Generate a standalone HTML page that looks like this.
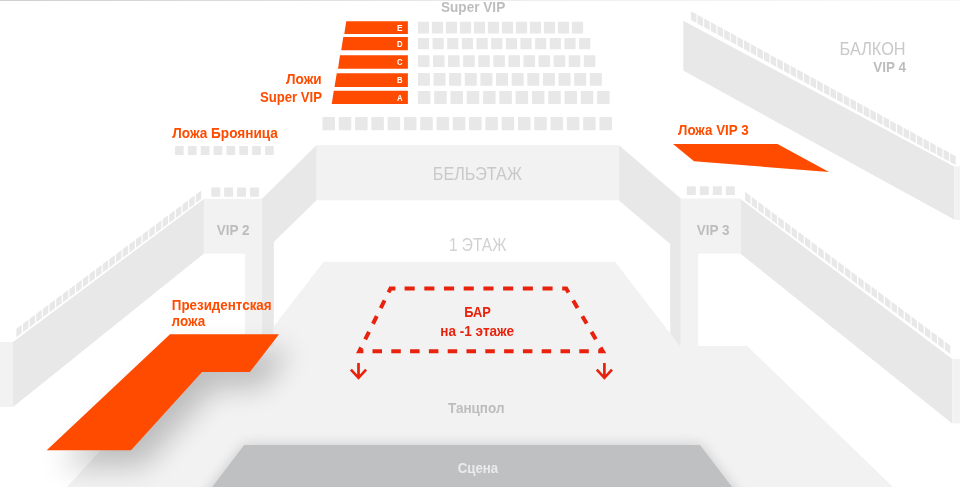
<!DOCTYPE html>
<html lang="ru">
<head>
<meta charset="utf-8">
<title>Схема зала</title>
<style>
html,body{margin:0;padding:0;background:#fff;}
body{width:960px;height:487px;overflow:hidden;font-family:'Liberation Sans', 'DejaVu Sans', sans-serif;}
svg{display:block;}
svg text{font-family:'Liberation Sans', 'DejaVu Sans', sans-serif;}
</style>
</head>
<body>
<svg width="960" height="487" viewBox="0 0 960 487">
<defs>
<linearGradient id="hl" x1="0" y1="0" x2="960" y2="0" gradientUnits="userSpaceOnUse"><stop offset="0" stop-color="#d0d0d0"/><stop offset="0.3" stop-color="#dedede"/><stop offset="0.55" stop-color="#eeeeee"/><stop offset="1" stop-color="#f8f8f8"/></linearGradient>
<filter id="b1" x="-20%" y="-50%" width="140%" height="200%"><feGaussianBlur stdDeviation="7"/></filter>
<filter id="b2" x="-50%" y="-60%" width="200%" height="220%"><feGaussianBlur stdDeviation="14"/></filter>
</defs>
<polygon points="316.75,145.00 316.75,200.00 273.80,242.00 273.80,346.00 262.00,346.00 262.00,198.75" fill="#e8e8e8"/>
<polygon points="618.75,145.00 680.80,198.50 680.80,346.00 670.20,346.00 670.20,244.00 618.75,200.30" fill="#e8e8e8"/>
<rect x="316.75" y="145.00" width="302.00" height="55.30" fill="#f2f2f2"/>
<rect x="245.00" y="253.00" width="17.00" height="93.00" fill="#f2f2f2"/>
<rect x="680.80" y="253.00" width="17.40" height="93.00" fill="#f2f2f2"/>
<rect x="203.75" y="198.75" width="58.25" height="54.90" fill="#f2f2f2"/>
<rect x="680.80" y="198.50" width="60.00" height="55.10" fill="#f2f2f2"/>
<polygon points="323.75,261.75 615.00,261.75 680.00,346.00 747.30,346.00 893.00,487.00 67.00,487.00 195.00,346.00 273.80,346.00 273.80,326.30" fill="#f2f2f2"/>
<polygon points="203.90,199.00 203.90,253.60 13.00,407.00 13.00,342.00" fill="#e8e8e8"/>
<rect x="0.00" y="342.00" width="13.00" height="65.00" fill="#f2f2f2"/>
<polygon points="16.30,328.70 21.75,324.63 21.75,333.13 16.30,337.20" fill="#e8e8e8"/>
<polygon points="22.95,323.73 28.40,319.66 28.40,328.16 22.95,332.23" fill="#e8e8e8"/>
<polygon points="29.60,318.76 35.05,314.69 35.05,323.19 29.60,327.26" fill="#e8e8e8"/>
<polygon points="36.25,313.80 41.70,309.73 41.70,318.23 36.25,322.30" fill="#e8e8e8"/>
<polygon points="42.90,308.83 48.35,304.76 48.35,313.26 42.90,317.33" fill="#e8e8e8"/>
<polygon points="49.55,303.86 55.00,299.79 55.00,308.29 49.55,312.36" fill="#e8e8e8"/>
<polygon points="56.20,298.89 61.65,294.82 61.65,303.32 56.20,307.39" fill="#e8e8e8"/>
<polygon points="62.85,293.93 68.30,289.85 68.30,298.35 62.85,302.43" fill="#e8e8e8"/>
<polygon points="69.50,288.96 74.95,284.89 74.95,293.39 69.50,297.46" fill="#e8e8e8"/>
<polygon points="76.15,283.99 81.60,279.92 81.60,288.42 76.15,292.49" fill="#e8e8e8"/>
<polygon points="82.80,279.02 88.25,274.95 88.25,283.45 82.80,287.52" fill="#e8e8e8"/>
<polygon points="89.45,274.05 94.90,269.98 94.90,278.48 89.45,282.55" fill="#e8e8e8"/>
<polygon points="96.10,269.09 101.55,265.02 101.55,273.52 96.10,277.59" fill="#e8e8e8"/>
<polygon points="102.75,264.12 108.20,260.05 108.20,268.55 102.75,272.62" fill="#e8e8e8"/>
<polygon points="109.40,259.15 114.85,255.08 114.85,263.58 109.40,267.65" fill="#e8e8e8"/>
<polygon points="116.05,254.18 121.50,250.11 121.50,258.61 116.05,262.68" fill="#e8e8e8"/>
<polygon points="122.70,249.22 128.15,245.15 128.15,253.65 122.70,257.72" fill="#e8e8e8"/>
<polygon points="129.35,244.25 134.80,240.18 134.80,248.68 129.35,252.75" fill="#e8e8e8"/>
<polygon points="136.00,239.28 141.45,235.21 141.45,243.71 136.00,247.78" fill="#e8e8e8"/>
<polygon points="142.65,234.31 148.10,230.24 148.10,238.74 142.65,242.81" fill="#e8e8e8"/>
<polygon points="149.30,229.35 154.75,225.27 154.75,233.77 149.30,237.85" fill="#e8e8e8"/>
<polygon points="155.95,224.38 161.40,220.31 161.40,228.81 155.95,232.88" fill="#e8e8e8"/>
<polygon points="162.60,219.41 168.05,215.34 168.05,223.84 162.60,227.91" fill="#e8e8e8"/>
<polygon points="169.25,214.44 174.70,210.37 174.70,218.87 169.25,222.94" fill="#e8e8e8"/>
<polygon points="175.90,209.47 181.35,205.40 181.35,213.90 175.90,217.97" fill="#e8e8e8"/>
<polygon points="182.55,204.51 188.00,200.44 188.00,208.94 182.55,213.01" fill="#e8e8e8"/>
<polygon points="189.20,199.54 194.65,195.47 194.65,203.97 189.20,208.04" fill="#e8e8e8"/>
<polygon points="195.85,194.57 201.30,190.50 201.30,199.00 195.85,203.07" fill="#e8e8e8"/>
<polygon points="740.80,199.30 952.20,359.00 952.20,423.40 740.80,253.90" fill="#e8e8e8"/>
<rect x="952.20" y="359.00" width="7.80" height="64.40" fill="#f2f2f2"/>
<polygon points="745.00,191.80 750.46,195.89 750.46,204.29 745.00,200.20" fill="#e8e8e8"/>
<polygon points="751.66,196.79 757.12,200.88 757.12,209.28 751.66,205.19" fill="#e8e8e8"/>
<polygon points="758.32,201.78 763.78,205.87 763.78,214.27 758.32,210.18" fill="#e8e8e8"/>
<polygon points="764.98,206.77 770.45,210.86 770.45,219.26 764.98,215.17" fill="#e8e8e8"/>
<polygon points="771.65,211.76 777.11,215.85 777.11,224.25 771.65,220.16" fill="#e8e8e8"/>
<polygon points="778.31,216.75 783.77,220.84 783.77,229.24 778.31,225.15" fill="#e8e8e8"/>
<polygon points="784.97,221.74 790.43,225.83 790.43,234.23 784.97,230.14" fill="#e8e8e8"/>
<polygon points="791.63,226.73 797.09,230.82 797.09,239.22 791.63,235.13" fill="#e8e8e8"/>
<polygon points="798.29,231.72 803.75,235.81 803.75,244.21 798.29,240.12" fill="#e8e8e8"/>
<polygon points="804.95,236.71 810.41,240.80 810.41,249.20 804.95,245.11" fill="#e8e8e8"/>
<polygon points="811.61,241.70 817.07,245.79 817.07,254.19 811.61,250.10" fill="#e8e8e8"/>
<polygon points="818.27,246.69 823.74,250.78 823.74,259.18 818.27,255.09" fill="#e8e8e8"/>
<polygon points="824.94,251.68 830.40,255.77 830.40,264.17 824.94,260.08" fill="#e8e8e8"/>
<polygon points="831.60,256.67 837.06,260.77 837.06,269.17 831.60,265.07" fill="#e8e8e8"/>
<polygon points="838.26,261.66 843.72,265.76 843.72,274.16 838.26,270.06" fill="#e8e8e8"/>
<polygon points="844.92,266.65 850.38,270.75 850.38,279.15 844.92,275.05" fill="#e8e8e8"/>
<polygon points="851.58,271.64 857.04,275.74 857.04,284.14 851.58,280.04" fill="#e8e8e8"/>
<polygon points="858.24,276.63 863.70,280.73 863.70,289.13 858.24,285.03" fill="#e8e8e8"/>
<polygon points="864.90,281.63 870.36,285.72 870.36,294.12 864.90,290.03" fill="#e8e8e8"/>
<polygon points="871.56,286.62 877.03,290.71 877.03,299.11 871.56,295.02" fill="#e8e8e8"/>
<polygon points="878.23,291.61 883.69,295.70 883.69,304.10 878.23,300.01" fill="#e8e8e8"/>
<polygon points="884.89,296.60 890.35,300.69 890.35,309.09 884.89,305.00" fill="#e8e8e8"/>
<polygon points="891.55,301.59 897.01,305.68 897.01,314.08 891.55,309.99" fill="#e8e8e8"/>
<polygon points="898.21,306.58 903.67,310.67 903.67,319.07 898.21,314.98" fill="#e8e8e8"/>
<polygon points="904.87,311.57 910.33,315.66 910.33,324.06 904.87,319.97" fill="#e8e8e8"/>
<polygon points="911.53,316.56 916.99,320.65 916.99,329.05 911.53,324.96" fill="#e8e8e8"/>
<polygon points="918.19,321.55 923.65,325.64 923.65,334.04 918.19,329.95" fill="#e8e8e8"/>
<polygon points="924.85,326.54 930.32,330.63 930.32,339.03 924.85,334.94" fill="#e8e8e8"/>
<polygon points="931.52,331.53 936.98,335.62 936.98,344.02 931.52,339.93" fill="#e8e8e8"/>
<polygon points="938.18,336.52 943.64,340.61 943.64,349.01 938.18,344.92" fill="#e8e8e8"/>
<polygon points="944.84,341.51 950.30,345.60 950.30,354.00 944.84,349.91" fill="#e8e8e8"/>
<polygon points="683.30,20.70 954.20,166.40 954.20,219.60 683.30,70.60" fill="#e8e8e8"/>
<rect x="954.20" y="166.40" width="5.80" height="53.50" fill="#f2f2f2"/>
<polygon points="690.90,11.20 696.45,14.24 696.45,23.04 690.90,20.00" fill="#e8e8e8"/>
<polygon points="697.55,14.84 703.10,17.88 703.10,26.68 697.55,23.64" fill="#e8e8e8"/>
<polygon points="704.19,18.48 709.74,21.52 709.74,30.32 704.19,27.28" fill="#e8e8e8"/>
<polygon points="710.84,22.12 716.39,25.16 716.39,33.96 710.84,30.92" fill="#e8e8e8"/>
<polygon points="717.49,25.76 723.04,28.80 723.04,37.60 717.49,34.56" fill="#e8e8e8"/>
<polygon points="724.14,29.40 729.69,32.44 729.69,41.24 724.14,38.20" fill="#e8e8e8"/>
<polygon points="730.78,33.04 736.33,36.08 736.33,44.88 730.78,41.84" fill="#e8e8e8"/>
<polygon points="737.43,36.68 742.98,39.72 742.98,48.52 737.43,45.48" fill="#e8e8e8"/>
<polygon points="744.08,40.32 749.63,43.36 749.63,52.16 744.08,49.12" fill="#e8e8e8"/>
<polygon points="750.73,43.96 756.27,47.00 756.27,55.80 750.73,52.76" fill="#e8e8e8"/>
<polygon points="757.38,47.60 762.92,50.64 762.92,59.44 757.38,56.40" fill="#e8e8e8"/>
<polygon points="764.02,51.24 769.57,54.28 769.57,63.08 764.02,60.04" fill="#e8e8e8"/>
<polygon points="770.67,54.88 776.22,57.92 776.22,66.72 770.67,63.68" fill="#e8e8e8"/>
<polygon points="777.32,58.52 782.87,61.56 782.87,70.36 777.32,67.32" fill="#e8e8e8"/>
<polygon points="783.97,62.16 789.51,65.20 789.51,74.00 783.97,70.96" fill="#e8e8e8"/>
<polygon points="790.61,65.80 796.16,68.84 796.16,77.64 790.61,74.60" fill="#e8e8e8"/>
<polygon points="797.26,69.44 802.81,72.48 802.81,81.28 797.26,78.24" fill="#e8e8e8"/>
<polygon points="803.91,73.08 809.46,76.12 809.46,84.92 803.91,81.88" fill="#e8e8e8"/>
<polygon points="810.56,76.72 816.10,79.76 816.10,88.56 810.56,85.52" fill="#e8e8e8"/>
<polygon points="817.20,80.36 822.75,83.40 822.75,92.20 817.20,89.16" fill="#e8e8e8"/>
<polygon points="823.85,84.00 829.40,87.04 829.40,95.84 823.85,92.80" fill="#e8e8e8"/>
<polygon points="830.50,87.64 836.05,90.68 836.05,99.48 830.50,96.44" fill="#e8e8e8"/>
<polygon points="837.14,91.28 842.69,94.32 842.69,103.12 837.14,100.08" fill="#e8e8e8"/>
<polygon points="843.79,94.92 849.34,97.96 849.34,106.76 843.79,103.72" fill="#e8e8e8"/>
<polygon points="850.44,98.56 855.99,101.60 855.99,110.40 850.44,107.36" fill="#e8e8e8"/>
<polygon points="857.09,102.20 862.64,105.24 862.64,114.04 857.09,111.00" fill="#e8e8e8"/>
<polygon points="863.74,105.84 869.28,108.88 869.28,117.68 863.74,114.64" fill="#e8e8e8"/>
<polygon points="870.38,109.48 875.93,112.52 875.93,121.32 870.38,118.28" fill="#e8e8e8"/>
<polygon points="877.03,113.12 882.58,116.16 882.58,124.96 877.03,121.92" fill="#e8e8e8"/>
<polygon points="883.68,116.76 889.23,119.80 889.23,128.60 883.68,125.56" fill="#e8e8e8"/>
<polygon points="890.33,120.40 895.87,123.44 895.87,132.24 890.33,129.20" fill="#e8e8e8"/>
<polygon points="896.97,124.04 902.52,127.08 902.52,135.88 896.97,132.84" fill="#e8e8e8"/>
<polygon points="903.62,127.68 909.17,130.72 909.17,139.52 903.62,136.48" fill="#e8e8e8"/>
<polygon points="910.27,131.32 915.82,134.36 915.82,143.16 910.27,140.12" fill="#e8e8e8"/>
<polygon points="916.92,134.96 922.46,138.00 922.46,146.80 916.92,143.76" fill="#e8e8e8"/>
<polygon points="923.56,138.60 929.11,141.64 929.11,150.44 923.56,147.40" fill="#e8e8e8"/>
<polygon points="930.21,142.24 935.76,145.28 935.76,154.08 930.21,151.04" fill="#e8e8e8"/>
<polygon points="936.86,145.88 942.41,148.92 942.41,157.72 936.86,154.68" fill="#e8e8e8"/>
<polygon points="943.51,149.52 949.05,152.56 949.05,161.36 943.51,158.32" fill="#e8e8e8"/>
<polygon points="950.15,153.16 955.70,156.20 955.70,165.00 950.15,161.96" fill="#e8e8e8"/>
<rect x="417.90" y="21.80" width="11.20" height="11.80" fill="#e8e8e8" rx="0.6"/>
<rect x="431.90" y="21.80" width="11.20" height="11.80" fill="#e8e8e8" rx="0.6"/>
<rect x="445.90" y="21.80" width="11.20" height="11.80" fill="#e8e8e8" rx="0.6"/>
<rect x="459.90" y="21.80" width="11.20" height="11.80" fill="#e8e8e8" rx="0.6"/>
<rect x="473.90" y="21.80" width="11.20" height="11.80" fill="#e8e8e8" rx="0.6"/>
<rect x="487.90" y="21.80" width="11.20" height="11.80" fill="#e8e8e8" rx="0.6"/>
<rect x="501.90" y="21.80" width="11.20" height="11.80" fill="#e8e8e8" rx="0.6"/>
<rect x="515.90" y="21.80" width="11.20" height="11.80" fill="#e8e8e8" rx="0.6"/>
<rect x="529.90" y="21.80" width="11.20" height="11.80" fill="#e8e8e8" rx="0.6"/>
<rect x="543.90" y="21.80" width="11.20" height="11.80" fill="#e8e8e8" rx="0.6"/>
<rect x="557.90" y="21.80" width="11.20" height="11.80" fill="#e8e8e8" rx="0.6"/>
<rect x="571.90" y="21.80" width="11.20" height="11.80" fill="#e8e8e8" rx="0.6"/>
<rect x="417.90" y="38.00" width="11.20" height="11.30" fill="#e8e8e8" rx="0.6"/>
<rect x="432.55" y="38.00" width="11.20" height="11.30" fill="#e8e8e8" rx="0.6"/>
<rect x="447.20" y="38.00" width="11.20" height="11.30" fill="#e8e8e8" rx="0.6"/>
<rect x="461.85" y="38.00" width="11.20" height="11.30" fill="#e8e8e8" rx="0.6"/>
<rect x="476.50" y="38.00" width="11.20" height="11.30" fill="#e8e8e8" rx="0.6"/>
<rect x="491.15" y="38.00" width="11.20" height="11.30" fill="#e8e8e8" rx="0.6"/>
<rect x="505.80" y="38.00" width="11.20" height="11.30" fill="#e8e8e8" rx="0.6"/>
<rect x="520.45" y="38.00" width="11.20" height="11.30" fill="#e8e8e8" rx="0.6"/>
<rect x="535.10" y="38.00" width="11.20" height="11.30" fill="#e8e8e8" rx="0.6"/>
<rect x="549.75" y="38.00" width="11.20" height="11.30" fill="#e8e8e8" rx="0.6"/>
<rect x="564.40" y="38.00" width="11.20" height="11.30" fill="#e8e8e8" rx="0.6"/>
<rect x="579.05" y="38.00" width="11.20" height="11.30" fill="#e8e8e8" rx="0.6"/>
<rect x="417.90" y="55.30" width="11.60" height="11.80" fill="#e8e8e8" rx="0.6"/>
<rect x="432.98" y="55.30" width="11.60" height="11.80" fill="#e8e8e8" rx="0.6"/>
<rect x="448.06" y="55.30" width="11.60" height="11.80" fill="#e8e8e8" rx="0.6"/>
<rect x="463.14" y="55.30" width="11.60" height="11.80" fill="#e8e8e8" rx="0.6"/>
<rect x="478.22" y="55.30" width="11.60" height="11.80" fill="#e8e8e8" rx="0.6"/>
<rect x="493.30" y="55.30" width="11.60" height="11.80" fill="#e8e8e8" rx="0.6"/>
<rect x="508.38" y="55.30" width="11.60" height="11.80" fill="#e8e8e8" rx="0.6"/>
<rect x="523.46" y="55.30" width="11.60" height="11.80" fill="#e8e8e8" rx="0.6"/>
<rect x="538.54" y="55.30" width="11.60" height="11.80" fill="#e8e8e8" rx="0.6"/>
<rect x="553.62" y="55.30" width="11.60" height="11.80" fill="#e8e8e8" rx="0.6"/>
<rect x="568.70" y="55.30" width="11.60" height="11.80" fill="#e8e8e8" rx="0.6"/>
<rect x="583.78" y="55.30" width="11.60" height="11.80" fill="#e8e8e8" rx="0.6"/>
<rect x="417.90" y="73.00" width="12.00" height="12.80" fill="#e8e8e8" rx="0.6"/>
<rect x="433.53" y="73.00" width="12.00" height="12.80" fill="#e8e8e8" rx="0.6"/>
<rect x="449.16" y="73.00" width="12.00" height="12.80" fill="#e8e8e8" rx="0.6"/>
<rect x="464.79" y="73.00" width="12.00" height="12.80" fill="#e8e8e8" rx="0.6"/>
<rect x="480.42" y="73.00" width="12.00" height="12.80" fill="#e8e8e8" rx="0.6"/>
<rect x="496.05" y="73.00" width="12.00" height="12.80" fill="#e8e8e8" rx="0.6"/>
<rect x="511.68" y="73.00" width="12.00" height="12.80" fill="#e8e8e8" rx="0.6"/>
<rect x="527.31" y="73.00" width="12.00" height="12.80" fill="#e8e8e8" rx="0.6"/>
<rect x="542.94" y="73.00" width="12.00" height="12.80" fill="#e8e8e8" rx="0.6"/>
<rect x="558.57" y="73.00" width="12.00" height="12.80" fill="#e8e8e8" rx="0.6"/>
<rect x="574.20" y="73.00" width="12.00" height="12.80" fill="#e8e8e8" rx="0.6"/>
<rect x="589.83" y="73.00" width="12.00" height="12.80" fill="#e8e8e8" rx="0.6"/>
<rect x="417.90" y="90.90" width="12.50" height="13.00" fill="#e8e8e8" rx="0.6"/>
<rect x="434.19" y="90.90" width="12.50" height="13.00" fill="#e8e8e8" rx="0.6"/>
<rect x="450.48" y="90.90" width="12.50" height="13.00" fill="#e8e8e8" rx="0.6"/>
<rect x="466.77" y="90.90" width="12.50" height="13.00" fill="#e8e8e8" rx="0.6"/>
<rect x="483.06" y="90.90" width="12.50" height="13.00" fill="#e8e8e8" rx="0.6"/>
<rect x="499.35" y="90.90" width="12.50" height="13.00" fill="#e8e8e8" rx="0.6"/>
<rect x="515.64" y="90.90" width="12.50" height="13.00" fill="#e8e8e8" rx="0.6"/>
<rect x="531.93" y="90.90" width="12.50" height="13.00" fill="#e8e8e8" rx="0.6"/>
<rect x="548.22" y="90.90" width="12.50" height="13.00" fill="#e8e8e8" rx="0.6"/>
<rect x="564.51" y="90.90" width="12.50" height="13.00" fill="#e8e8e8" rx="0.6"/>
<rect x="580.80" y="90.90" width="12.50" height="13.00" fill="#e8e8e8" rx="0.6"/>
<rect x="597.09" y="90.90" width="12.50" height="13.00" fill="#e8e8e8" rx="0.6"/>
<rect x="322.50" y="117.00" width="12.50" height="13.20" fill="#e8e8e8" rx="0.6"/>
<rect x="338.79" y="117.00" width="12.50" height="13.20" fill="#e8e8e8" rx="0.6"/>
<rect x="355.08" y="117.00" width="12.50" height="13.20" fill="#e8e8e8" rx="0.6"/>
<rect x="371.37" y="117.00" width="12.50" height="13.20" fill="#e8e8e8" rx="0.6"/>
<rect x="387.66" y="117.00" width="12.50" height="13.20" fill="#e8e8e8" rx="0.6"/>
<rect x="403.95" y="117.00" width="12.50" height="13.20" fill="#e8e8e8" rx="0.6"/>
<rect x="420.24" y="117.00" width="12.50" height="13.20" fill="#e8e8e8" rx="0.6"/>
<rect x="436.53" y="117.00" width="12.50" height="13.20" fill="#e8e8e8" rx="0.6"/>
<rect x="452.82" y="117.00" width="12.50" height="13.20" fill="#e8e8e8" rx="0.6"/>
<rect x="469.11" y="117.00" width="12.50" height="13.20" fill="#e8e8e8" rx="0.6"/>
<rect x="485.40" y="117.00" width="12.50" height="13.20" fill="#e8e8e8" rx="0.6"/>
<rect x="501.69" y="117.00" width="12.50" height="13.20" fill="#e8e8e8" rx="0.6"/>
<rect x="517.98" y="117.00" width="12.50" height="13.20" fill="#e8e8e8" rx="0.6"/>
<rect x="534.27" y="117.00" width="12.50" height="13.20" fill="#e8e8e8" rx="0.6"/>
<rect x="550.56" y="117.00" width="12.50" height="13.20" fill="#e8e8e8" rx="0.6"/>
<rect x="566.85" y="117.00" width="12.50" height="13.20" fill="#e8e8e8" rx="0.6"/>
<rect x="583.14" y="117.00" width="12.50" height="13.20" fill="#e8e8e8" rx="0.6"/>
<rect x="599.43" y="117.00" width="12.50" height="13.20" fill="#e8e8e8" rx="0.6"/>
<rect x="175.00" y="146.10" width="8.70" height="8.80" fill="#e8e8e8" rx="0.4"/>
<rect x="187.86" y="146.10" width="8.70" height="8.80" fill="#e8e8e8" rx="0.4"/>
<rect x="200.72" y="146.10" width="8.70" height="8.80" fill="#e8e8e8" rx="0.4"/>
<rect x="213.58" y="146.10" width="8.70" height="8.80" fill="#e8e8e8" rx="0.4"/>
<rect x="226.44" y="146.10" width="8.70" height="8.80" fill="#e8e8e8" rx="0.4"/>
<rect x="239.30" y="146.10" width="8.70" height="8.80" fill="#e8e8e8" rx="0.4"/>
<rect x="252.16" y="146.10" width="8.70" height="8.80" fill="#e8e8e8" rx="0.4"/>
<rect x="265.02" y="146.10" width="8.70" height="8.80" fill="#e8e8e8" rx="0.4"/>
<rect x="211.25" y="187.50" width="9.00" height="9.25" fill="#e8e8e8" rx="0.4"/>
<rect x="224.15" y="187.50" width="9.00" height="9.25" fill="#e8e8e8" rx="0.4"/>
<rect x="237.05" y="187.50" width="9.00" height="9.25" fill="#e8e8e8" rx="0.4"/>
<rect x="249.95" y="187.50" width="9.00" height="9.25" fill="#e8e8e8" rx="0.4"/>
<rect x="686.80" y="186.30" width="9.00" height="8.80" fill="#e8e8e8" rx="0.4"/>
<rect x="699.80" y="186.30" width="9.00" height="8.80" fill="#e8e8e8" rx="0.4"/>
<rect x="712.80" y="186.30" width="9.00" height="8.80" fill="#e8e8e8" rx="0.4"/>
<rect x="725.80" y="186.30" width="9.00" height="8.80" fill="#e8e8e8" rx="0.4"/>
<polygon points="346.25,21.25 407.90,21.25 407.90,34.00 344.25,34.00" fill="#ff4b00"/>
<g opacity="0.999"><text x="397.00" y="31.02" font-size="9.8" font-weight="bold" fill="#fff" text-anchor="start" textLength="5.60" lengthAdjust="spacingAndGlyphs">E</text></g>
<polygon points="343.25,37.00 407.90,37.00 407.90,50.25 341.25,50.25" fill="#ff4b00"/>
<g opacity="0.999"><text x="397.00" y="47.02" font-size="9.8" font-weight="bold" fill="#fff" text-anchor="start" textLength="5.60" lengthAdjust="spacingAndGlyphs">D</text></g>
<polygon points="340.00,55.25 407.90,55.25 407.90,68.70 338.00,68.70" fill="#ff4b00"/>
<g opacity="0.999"><text x="397.00" y="65.38" font-size="9.8" font-weight="bold" fill="#fff" text-anchor="start" textLength="5.60" lengthAdjust="spacingAndGlyphs">C</text></g>
<polygon points="336.75,73.25 407.90,73.25 407.90,86.90 334.50,86.90" fill="#ff4b00"/>
<g opacity="0.999"><text x="397.00" y="83.48" font-size="9.8" font-weight="bold" fill="#fff" text-anchor="start" textLength="5.60" lengthAdjust="spacingAndGlyphs">B</text></g>
<polygon points="333.75,90.70 407.90,90.70 407.90,104.00 331.75,104.00" fill="#ff4b00"/>
<g opacity="0.999"><text x="397.00" y="100.75" font-size="9.8" font-weight="bold" fill="#fff" text-anchor="start" textLength="5.60" lengthAdjust="spacingAndGlyphs">A</text></g>
<polygon points="673.00,144.00 777.50,144.00 829.00,172.00 694.00,161.25" fill="#ff4b00"/>
<g filter="url(#b1)" opacity="0.16"><polygon points="244.20,445.00 700.00,445.00 757.00,520.00 187.00,520.00" fill="#000"/></g>
<polygon points="244.20,445.00 700.00,445.00 732.00,487.00 212.20,487.00" fill="#bfc0c2"/>
<g filter="url(#b2)" opacity="0.215" transform="translate(12,16)"><polygon points="170.00,334.30 279.00,334.30 249.90,372.00 202.00,372.00 131.00,450.30 46.70,450.30" fill="#000"/></g>
<polygon points="170.00,334.30 279.00,334.30 249.90,372.00 202.00,372.00 131.00,450.30 46.70,450.30" fill="#ff4b00"/>
<path d="M480.0,351.3 L359.3,351.3 L390.5,288.5 L566.2,288.5 L602.8,351.3 L480.0,351.3" fill="none" stroke="#e8220c" stroke-width="4" stroke-dasharray="0.00 4.00 9.50 9.30 9.50 9.30 9.50 9.30 9.50 9.30 9.50 9.30 9.50 9.10 8.35 9.00 8.50 9.00 8.50 9.00 8.50 9.00 9.27 9.20 10.10 9.60 10.10 9.60 10.10 9.60 10.10 9.60 10.10 9.60 10.10 9.60 10.10 9.60 10.10 9.60 8.50 9.40 8.60 9.55 8.60 9.55 8.60 9.50 8.99 9.40 9.50 9.30 9.50 9.30 9.50 9.30 9.50 9.30 9.50 9.30 9.50 55.30" stroke-linejoin="miter" stroke-miterlimit="6"/>
<path d="M358.5,363 V377.6 M350.9,369.6 L358.5,377.8 L366.1,369.6" fill="none" stroke="#e8220c" stroke-width="2.7" stroke-linejoin="miter"/>
<path d="M604.4,363 V377.6 M596.8,369.6 L604.4,377.8 L612.0,369.6" fill="none" stroke="#e8220c" stroke-width="2.7" stroke-linejoin="miter"/>
<g opacity="0.999">
<text x="441.00" y="11.90" font-size="15" font-weight="bold" fill="#bdbdbd" text-anchor="start" textLength="64.20" lengthAdjust="spacingAndGlyphs">Super VIP</text>
<text x="286.00" y="83.80" font-size="15" font-weight="bold" fill="#ff4b00" text-anchor="start" textLength="35.60" lengthAdjust="spacingAndGlyphs">Ложи</text>
<text x="260.00" y="101.50" font-size="15" font-weight="bold" fill="#ff4b00" text-anchor="start" textLength="62.00" lengthAdjust="spacingAndGlyphs">Super VIP</text>
<text x="172.30" y="137.70" font-size="15" font-weight="bold" fill="#ff4b00" text-anchor="start" textLength="105.60" lengthAdjust="spacingAndGlyphs">Ложа Брояница</text>
<text x="678.00" y="135.10" font-size="15" font-weight="bold" fill="#ff4b00" text-anchor="start" textLength="70.60" lengthAdjust="spacingAndGlyphs">Ложа VIP 3</text>
<text x="432.80" y="179.50" font-size="17.5" font-weight="normal" fill="#c9c9c9" text-anchor="start" textLength="89.00" lengthAdjust="spacingAndGlyphs">БЕЛЬЭТАЖ</text>
<text x="449.00" y="251.40" font-size="17.5" font-weight="normal" fill="#d2d2d2" text-anchor="start" textLength="57.40" lengthAdjust="spacingAndGlyphs">1 ЭТАЖ</text>
<text x="839.60" y="55.00" font-size="17.5" font-weight="normal" fill="#c9c9c9" text-anchor="start" textLength="66.00" lengthAdjust="spacingAndGlyphs">БАЛКОН</text>
<text x="873.20" y="72.20" font-size="15" font-weight="bold" fill="#bdbdbd" text-anchor="start" textLength="32.80" lengthAdjust="spacingAndGlyphs">VIP 4</text>
<text x="216.80" y="234.50" font-size="15" font-weight="bold" fill="#bdbdbd" text-anchor="start" textLength="32.80" lengthAdjust="spacingAndGlyphs">VIP 2</text>
<text x="696.80" y="234.50" font-size="15" font-weight="bold" fill="#bdbdbd" text-anchor="start" textLength="32.80" lengthAdjust="spacingAndGlyphs">VIP 3</text>
<text x="171.80" y="310.30" font-size="15" font-weight="bold" fill="#ff4b00" text-anchor="start" textLength="99.80" lengthAdjust="spacingAndGlyphs">Президентская</text>
<text x="171.60" y="325.80" font-size="15" font-weight="bold" fill="#ff4b00" text-anchor="start" textLength="33.60" lengthAdjust="spacingAndGlyphs">ложа</text>
<text x="464.30" y="316.80" font-size="15.4" font-weight="bold" fill="#e8220c" text-anchor="start" textLength="26.60" lengthAdjust="spacingAndGlyphs">БАР</text>
<text x="440.30" y="336.20" font-size="15" font-weight="bold" fill="#e8220c" text-anchor="start" textLength="73.80" lengthAdjust="spacingAndGlyphs">на -1 этаже</text>
<text x="448.00" y="412.60" font-size="15" font-weight="bold" fill="#bdbdbd" text-anchor="start" textLength="56.50" lengthAdjust="spacingAndGlyphs">Танцпол</text>
<text x="457.80" y="473.30" font-size="15" font-weight="bold" fill="#ebebeb" text-anchor="start" textLength="40.40" lengthAdjust="spacingAndGlyphs">Сцена</text>
</g>
<rect x="0.00" y="0.00" width="960.00" height="1.00" fill="url(#hl)"/>
</svg>
</body>
</html>
